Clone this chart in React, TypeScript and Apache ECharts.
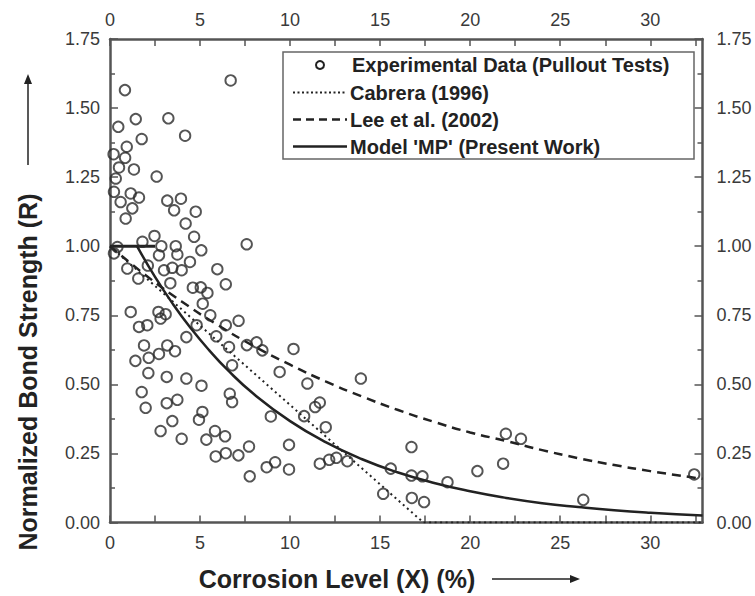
import React, { useEffect, useRef } from "react";
import * as echarts from "echarts";

// Experimental data (pullout tests): corrosion level X (%) and normalized bond strength R
const EXP_X = [
  6.70, 0.83, 1.43, 3.24, 0.46, 4.17, 1.76, 0.93, 0.20, 0.84, 1.33, 0.32, 0.50, 2.59, 0.22, 1.15, 1.61, 3.18,
  3.94, 0.59, 3.56, 4.76, 1.24, 0.87, 4.20, 4.67, 2.47, 5.07, 1.80, 7.59, 0.41, 0.22, 2.85, 3.65, 3.74, 4.44,
  2.72, 0.96, 1.57, 2.10, 3.00, 3.46, 3.98, 5.96, 6.43, 3.35, 4.60, 5.04, 5.41, 5.15, 5.57, 6.43, 7.14, 4.81,
  5.90, 6.61, 7.60, 8.14, 8.46, 10.19, 1.15, 2.69, 3.09, 2.81, 1.61, 2.07, 1.89, 3.18, 3.61, 4.24, 2.72, 2.15,
  1.41, 2.13, 3.15, 4.24, 5.08, 6.78, 9.42, 10.96, 6.65, 6.78, 11.65, 1.76, 3.15, 3.74, 1.98, 5.13, 4.94, 3.46,
  2.81, 3.98, 5.35, 5.83, 6.39, 5.87, 6.43, 7.13, 7.72, 8.93, 7.76, 8.70, 9.17, 9.94, 9.94, 13.93, 11.39, 10.78,
  11.98, 11.65, 12.17, 12.57, 13.18, 15.59, 16.74, 16.74, 17.35, 18.74, 20.4, 15.17, 16.76, 17.44, 21.98, 22.82,
  21.83, 26.28, 32.44,
];
const EXP_R = [
  1.600, 1.565, 1.460, 1.463, 1.432, 1.400, 1.388, 1.360, 1.333, 1.320, 1.278, 1.245, 1.285, 1.252, 1.197, 1.191, 1.176, 1.165,
  1.172, 1.160, 1.130, 1.125, 1.137, 1.100, 1.082, 1.034, 1.037, 0.985, 1.016, 1.007, 0.997, 0.974, 1.000, 1.000, 0.970, 0.943,
  0.967, 0.919, 0.883, 0.930, 0.913, 0.922, 0.913, 0.917, 0.862, 0.866, 0.850, 0.851, 0.831, 0.792, 0.750, 0.714, 0.730, 0.714,
  0.674, 0.635, 0.642, 0.652, 0.623, 0.628, 0.762, 0.762, 0.754, 0.738, 0.708, 0.714, 0.641, 0.641, 0.620, 0.671, 0.610, 0.596,
  0.585, 0.541, 0.527, 0.521, 0.495, 0.569, 0.545, 0.503, 0.466, 0.436, 0.434, 0.472, 0.432, 0.444, 0.415, 0.400, 0.372, 0.367,
  0.331, 0.303, 0.300, 0.331, 0.312, 0.239, 0.251, 0.243, 0.275, 0.384, 0.167, 0.200, 0.218, 0.281, 0.192, 0.521, 0.418, 0.385,
  0.345, 0.213, 0.227, 0.234, 0.222, 0.195, 0.273, 0.170, 0.167, 0.146, 0.186, 0.104, 0.089, 0.074, 0.321, 0.303,
  0.213, 0.082, 0.174,
];

// Cabrera (1996)
const CABRERA_X = [0, 17.4, 32.9];
const CABRERA_R = [1.0, 0.0, 0.0];

// Lee et al. (2002)
const LEE_X = [0, 2, 4, 6, 8, 10, 12, 14, 16, 18, 20, 22, 24, 26, 28, 30, 32.9];
const LEE_R = [1.0, 0.894, 0.799, 0.714, 0.638, 0.571, 0.51, 0.456, 0.407, 0.364, 0.326, 0.295, 0.262, 0.233, 0.208, 0.186, 0.158];

// Model 'MP' (Present Work)
const MP_PLATEAU_X = [0, 2.5];
const MP_PLATEAU_R = [1.0, 1.0];
const MP_X = [1.5, 2.5, 3.5, 4.5, 5.5, 6.5, 8, 10, 12, 14, 16, 18, 20, 22, 24, 26, 28, 30, 32.9];
const MP_R = [1.0, 0.889, 0.79, 0.702, 0.624, 0.554, 0.464, 0.367, 0.29, 0.229, 0.181, 0.143, 0.113, 0.089, 0.07, 0.056, 0.044, 0.035, 0.025];

const X_MIN = 0;
const X_MAX = 32.9;
const X_TICK = 2.5;
const X_LABEL_STEP = 5;
const Y_MIN = 0;
const Y_MAX = 1.75;
const Y_TICK = 0.25;

const LEGEND_LABELS = [
  "Experimental Data (Pullout Tests)",
  "Cabrera (1996)",
  "Lee et al. (2002)",
  "Model 'MP' (Present Work)",
];
const X_TITLE = "Corrosion Level (X) (%)";
const Y_TITLE = "Normalized Bond Strength (R)";

const zip = (xs: number[], ys: number[]) => xs.map((x, i) => [x, ys[i]]);

const FONT = '"Liberation Sans", Arial, sans-serif';
const AXIS_COLOR = "#555";
const LABEL_COLOR = "#3a3a3a";
const INK = "#222";

const xLabelFmt = (v: number) =>
  Math.abs(v / X_LABEL_STEP - Math.round(v / X_LABEL_STEP)) < 1e-6 ? String(Math.round(v)) : "";

function makeXAxis(position: "bottom" | "top") {
  return {
    type: "value",
    position,
    min: X_MIN,
    max: X_MAX,
    interval: X_TICK,
    axisLine: { show: true, onZero: false, lineStyle: { color: AXIS_COLOR, width: 2.5 } },
    axisTick: { show: true, inside: true, length: 7, lineStyle: { color: AXIS_COLOR, width: 1.5 } },
    axisLabel: {
      show: true,
      formatter: xLabelFmt,
      margin: position === "bottom" ? 11 : 10,
      color: LABEL_COLOR,
      fontFamily: FONT,
      fontSize: 18,
      showMaxLabel: false,
    },
    splitLine: { show: false },
  };
}

function makeYAxis(position: "left" | "right") {
  return {
    type: "value",
    position,
    min: Y_MIN,
    max: Y_MAX,
    interval: Y_TICK,
    axisLine: { show: true, onZero: false, lineStyle: { color: AXIS_COLOR, width: 2.5 } },
    axisTick: { show: true, inside: true, length: 8, lineStyle: { color: AXIS_COLOR, width: 1.5 } },
    minorTick: { show: true, splitNumber: 2, length: 5, lineStyle: { color: AXIS_COLOR, width: 1.5 } },
    axisLabel: {
      show: true,
      formatter: (v: number) => v.toFixed(2),
      margin: position === "left" ? 10 : 14,
      color: LABEL_COLOR,
      fontFamily: FONT,
      fontSize: 18,
    },
    splitLine: { show: false },
    minorSplitLine: { show: false },
  };
}

export default function App() {
  const ref = useRef<HTMLDivElement>(null);

  useEffect(() => {
    if (!ref.current) return;
    const chart = echarts.init(ref.current, undefined, { renderer: "svg" });

    const legendX = 293;
    const legendRows = [65, 92.5, 119.5, 146.5];
    const textX = 350;
    const legendFont = `bold 20px ${FONT}`;

    const graphic: any[] = [
      {
        type: "rect",
        shape: { x: 283, y: 52, width: 411, height: 107 },
        style: { fill: "#fff", stroke: "#666", lineWidth: 1.5 },
        z: 100,
      },
      {
        type: "circle",
        shape: { cx: 320, cy: legendRows[0], r: 4 },
        style: { fill: "none", stroke: INK, lineWidth: 2 },
        z: 101,
      },
      {
        type: "line",
        shape: { x1: legendX, y1: legendRows[1], x2: legendX + 54, y2: legendRows[1] },
        style: { stroke: INK, lineWidth: 2, lineDash: [2, 2.5] },
        z: 101,
      },
      {
        type: "line",
        shape: { x1: legendX, y1: legendRows[2], x2: legendX + 54, y2: legendRows[2] },
        style: { stroke: INK, lineWidth: 2.5, lineDash: [8, 5] },
        z: 101,
      },
      {
        type: "line",
        shape: { x1: legendX, y1: legendRows[3], x2: legendX + 54, y2: legendRows[3] },
        style: { stroke: INK, lineWidth: 2.5 },
        z: 101,
      },
      ...LEGEND_LABELS.map((t, i) => ({
        type: "text",
        x: i === 0 ? textX + 2 : textX,
        y: legendRows[i],
        style: { text: t, font: legendFont, fill: INK, align: "left", verticalAlign: "middle" },
        z: 101,
      })),
      // x title
      {
        type: "text",
        x: 337,
        y: 579,
        style: { text: X_TITLE, font: `bold 25px ${FONT}`, fill: INK, align: "center", verticalAlign: "middle" },
      },
      { type: "line", shape: { x1: 492, y1: 579, x2: 572, y2: 579 }, style: { stroke: INK, lineWidth: 1.5 } },
      { type: "polygon", shape: { points: [[580, 579], [570, 575], [570, 583]] }, style: { fill: INK } },
      // y title
      {
        type: "text",
        x: 28,
        y: 372,
        rotation: Math.PI / 2,
        style: { text: Y_TITLE, font: `bold 25px ${FONT}`, fill: INK, align: "center", verticalAlign: "middle" },
      },
      { type: "line", shape: { x1: 28, y1: 165, x2: 28, y2: 82 }, style: { stroke: INK, lineWidth: 1.5 } },
      { type: "polygon", shape: { points: [[28, 74], [24, 84], [32, 84]] }, style: { fill: INK } },
    ];

    chart.setOption({
      animation: false,
      backgroundColor: "#fff",
      grid: {
        left: 110,
        right: 52.5,
        top: 39,
        bottom: 73.5,
        containLabel: false,
        outerBoundsMode: "none",
      },
      xAxis: [makeXAxis("bottom"), makeXAxis("top")],
      yAxis: [makeYAxis("left"), makeYAxis("right")],
      graphic,
      series: [
        {
          name: LEGEND_LABELS[1],
          type: "line",
          data: zip(CABRERA_X, CABRERA_R),
          symbol: "none",
          lineStyle: { color: INK, width: 2, type: [2, 3.5] },
          z: 3,
        },
        {
          name: LEGEND_LABELS[2],
          type: "line",
          data: zip(LEE_X, LEE_R),
          symbol: "none",
          smooth: true,
          lineStyle: { color: INK, width: 2.5, type: [9, 6] },
          z: 3,
        },
        {
          name: LEGEND_LABELS[3],
          type: "line",
          data: zip(MP_PLATEAU_X, MP_PLATEAU_R),
          symbol: "none",
          lineStyle: { color: INK, width: 3 },
          z: 3,
        },
        {
          name: LEGEND_LABELS[3],
          type: "line",
          data: zip(MP_X, MP_R),
          symbol: "none",
          smooth: true,
          lineStyle: { color: INK, width: 2.5 },
          z: 3,
        },
        {
          name: LEGEND_LABELS[0],
          type: "scatter",
          data: zip(EXP_X, EXP_R),
          symbol: "circle",
          symbolSize: 10.5,
          itemStyle: { color: "rgba(0,0,0,0)", borderColor: "#2a2a2a", borderWidth: 1.9 },
          z: 4,
        },
      ],
    });

    return () => chart.dispose();
  }, []);

  return (
    <div
      ref={ref}
      style={{ position: "absolute", left: 0, top: 0, width: 755, height: 596, background: "#fff" }}
    />
  );
}
